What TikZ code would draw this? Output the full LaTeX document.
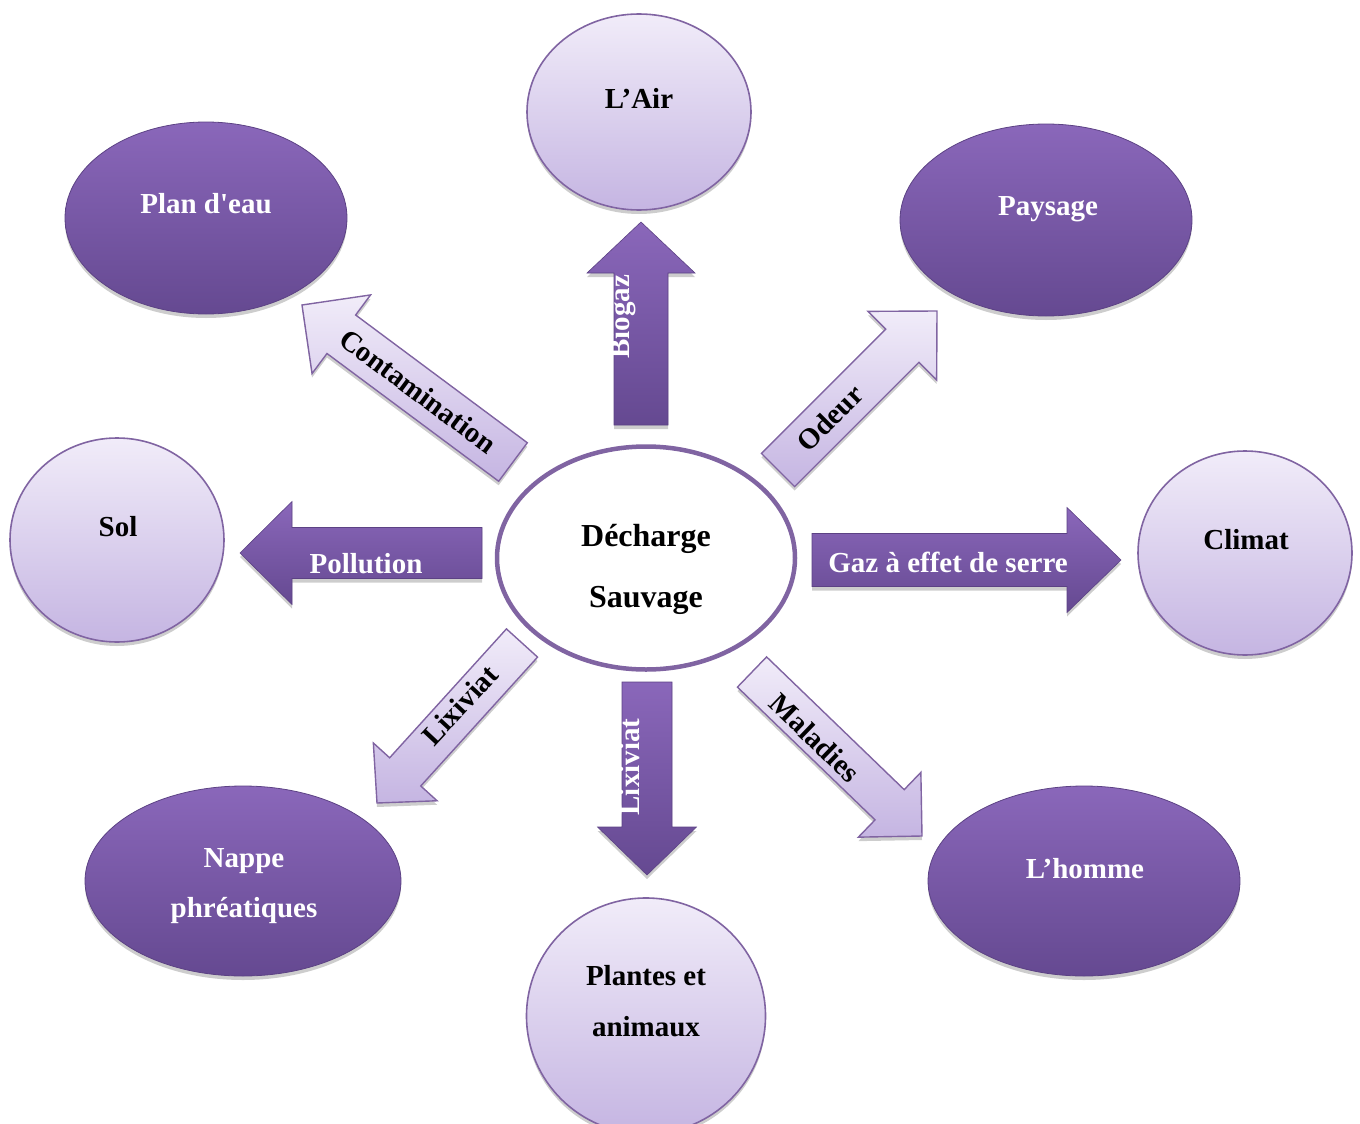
\documentclass[tikz,border=0pt]{standalone}
\usepackage{fontspec}
\setmainfont{Liberation Serif}[Ligatures=TeXOff]
\usetikzlibrary{shapes.geometric,calc,shadows}

\definecolor{rim}{RGB}{128,100,162}
\definecolor{darkrim}{RGB}{92,66,132}
\definecolor{deeptop}{RGB}{138,103,186}
\definecolor{deepbot}{RGB}{101,73,145}
\definecolor{paletop}{RGB}{241,236,249}
\definecolor{palebot}{RGB}{197,181,226}

\tikzset{
  lbl/.style={font=\fontsize{29}{34}\selectfont\bfseries, inner sep=0pt},
  biglbl/.style={font=\fontsize{32}{38}\selectfont\bfseries, inner sep=0pt},
  whitelbl/.style={lbl, text=white},
  softshadow/.style={drop shadow={opacity=0.28, shadow xshift=0pt, shadow yshift=-4pt, fill=black!70}},
  deepell/.style={ellipse, inner sep=0pt, outer sep=0pt, top color=deeptop, bottom color=deepbot,
    draw=darkrim, line width=0.8pt, softshadow},
  paleell/.style={ellipse, inner sep=0pt, outer sep=0pt, top color=paletop, bottom color=palebot,
    draw=rim, line width=1.6pt, softshadow},
  deeparrow/.style={top color=deeptop, bottom color=deepbot, draw=darkrim, line width=0.6pt,
    line join=miter, softshadow},
  palearrow/.style={top color=paletop, bottom color=palebot, draw=rim, line width=1.4pt,
    line join=miter, softshadow},
}

% Block arrow: #1 style, #2 tail, #3 tip, #4 shaft half width,
% #5 head half width, #6 head length, #7 name prefix
\newcommand\blockarrow[7]{%
  \path ($(#3)!#6!(#2)$) coordinate (#7-hb);
  \shade[#1] ($(#2)!#4!90:(#3)$) -- ($(#7-hb)!#4!90:(#3)$) -- ($(#7-hb)!#5!90:(#3)$)
    -- (#3) -- ($(#7-hb)!#5!-90:(#3)$) -- ($(#7-hb)!#4!-90:(#3)$)
    -- ($(#2)!#4!-90:(#3)$) -- cycle;
}

\begin{document}
\begin{tikzpicture}[x=1pt, y=-1pt]
\useasboundingbox (0,0) rectangle (1360,1124);
\clip (0,0) rectangle (1360,1124);

% ---- outer ellipses ----
\node[paleell, minimum width=224pt, minimum height=196pt] (air) at (639,112) {};
\node[deepell, minimum width=282pt, minimum height=192pt] (plan) at (206,218) {};
\node[deepell, minimum width=292pt, minimum height=192pt] (paysage) at (1046,220) {};
\node[paleell, minimum width=214pt, minimum height=204pt] (sol) at (117,540) {};
\node[paleell, minimum width=214pt, minimum height=204pt] (climat) at (1245,553) {};
\node[deepell, minimum width=316pt, minimum height=190pt] (nappe) at (243,881) {};
\node[paleell, minimum width=239pt, minimum height=236pt] (plantes) at (646,1016) {};
\node[deepell, minimum width=312pt, minimum height=190pt] (homme) at (1084,881) {};

% ---- central ellipse ----
\node[ellipse, inner sep=0pt, fill=white, draw=rim, line width=4.5pt,
      minimum width=298pt, minimum height=223pt] (decharge) at (646,558) {};

% ---- arrow end points ----
\coordinate (bioT) at (641,425);   \coordinate (bioH) at (641,222);
\coordinate (conT) at (513,462);   \coordinate (conH) at (302,305);
\coordinate (odeT) at (778,470);   \coordinate (odeH) at (937,311);
\coordinate (polT) at (482,553);   \coordinate (polH) at (240,553);
\coordinate (gazT) at (812,560);   \coordinate (gazH) at (1121,560);
\coordinate (lxdT) at (522,643);   \coordinate (lxdH) at (377,803);
\coordinate (lxvT) at (647,682);   \coordinate (lxvH) at (647,875);
\coordinate (malT) at (752,672);   \coordinate (malH) at (922,836);

% ---- arrows ----
\blockarrow{deeparrow}{bioT}{bioH}{27pt}{54pt}{51pt}{bio}
\blockarrow{palearrow}{conT}{conH}{24pt}{49pt}{49pt}{con}
\blockarrow{palearrow}{odeT}{odeH}{23.5pt}{48.5pt}{49pt}{ode}
\blockarrow{deeparrow}{polT}{polH}{25.5pt}{51.5pt}{52pt}{pol}
\blockarrow{deeparrow}{gazT}{gazH}{26.5pt}{52.5pt}{54pt}{gaz}
\blockarrow{palearrow}{lxdT}{lxdH}{21pt}{43pt}{42pt}{lxd}
\blockarrow{deeparrow}{lxvT}{lxvH}{25pt}{49.5pt}{48pt}{lxv}
\blockarrow{palearrow}{malT}{malH}{21pt}{45pt}{45pt}{mal}

% ---- ellipse labels ----
\node[lbl, anchor=base] (t-air) at (639,108) {L’Air};
\node[whitelbl, anchor=base] (t-plan) at (206,213) {Plan d'eau};
\node[whitelbl, anchor=base] (t-pay) at (1048,215) {Paysage};
\node[lbl, anchor=base] (t-sol) at (118,536) {Sol};
\node[lbl, anchor=base] (t-cli) at (1246,549) {Climat};
\node[whitelbl, anchor=base] (t-nap1) at (244,867) {Nappe};
\node[whitelbl, anchor=base] (t-nap2) at (244,917) {phréatiques};
\node[lbl, anchor=base] (t-pla1) at (646,985) {Plantes et};
\node[lbl, anchor=base] (t-pla2) at (646,1036) {animaux};
\node[whitelbl, anchor=base] (t-hom) at (1085,878) {L’homme};
\node[biglbl, anchor=base] (t-dec1) at (646,546) {Décharge};
\node[biglbl, anchor=base] (t-dec2) at (646,607) {Sauvage};

% ---- arrow labels ----
\node[whitelbl, rotate=90] (a-bio) at (623,317) {Biogaz};
\node[lbl, rotate=-36.6] (a-con) at (418,391) {Contamination};
\node[lbl, rotate=45] (a-ode) at (830,418) {Odeur};
\node[whitelbl, anchor=base] (a-pol) at (366,573) {Pollution};
\node[whitelbl, anchor=base] (a-gaz) at (948,572) {Gaz à effet de serre};
\node[lbl, rotate=47] (a-lxd) at (460,705) {Lixiviat};
\node[whitelbl, rotate=90] (a-lxv) at (630,767) {Lixiviat};
\node[lbl, rotate=-44] (a-mal) at (815,738) {Maladies};
\end{tikzpicture}
\end{document}
